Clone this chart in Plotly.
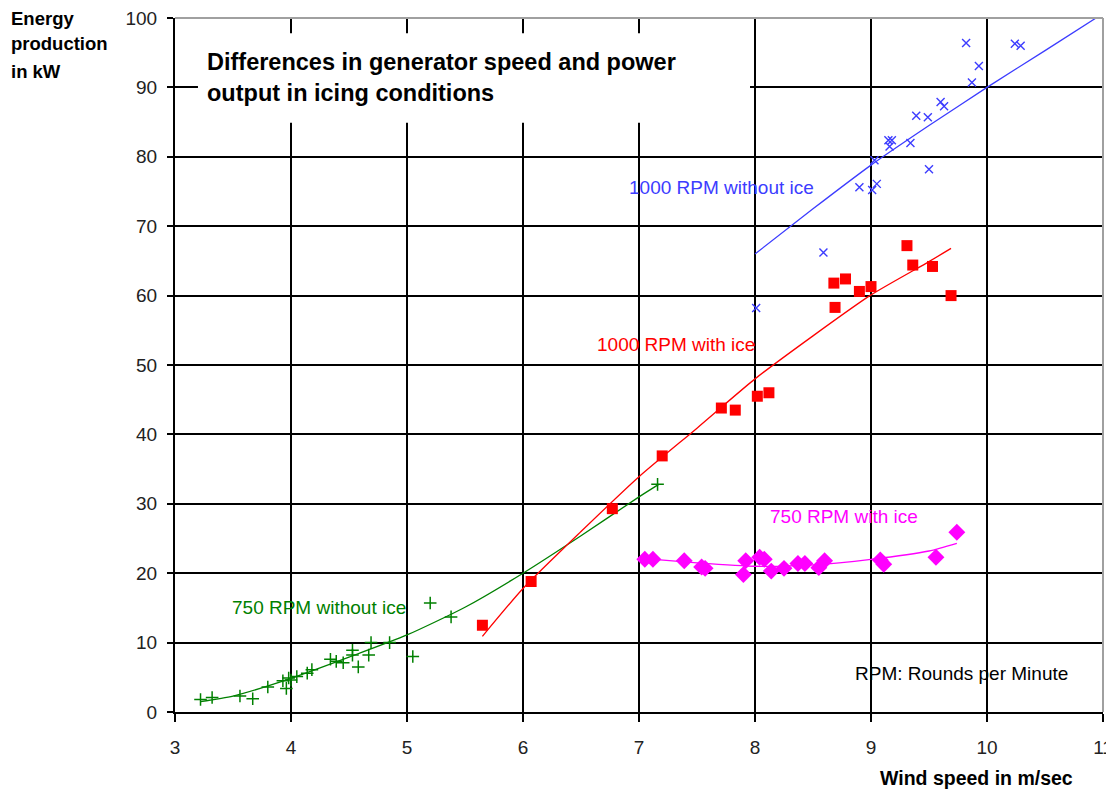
import plotly.graph_objects as go

# ---------------- data ----------------
# 750 RPM without ice (green +)
g_x = [3.22, 3.32, 3.56, 3.67, 3.80, 3.93, 3.96, 3.98, 4.00, 4.05, 4.14, 4.18, 4.34, 4.39,
       4.45, 4.53, 4.53, 4.58, 4.67, 4.69, 4.85, 5.05, 5.20, 5.38, 7.16]
g_y = [1.8, 2.1, 2.3, 1.9, 3.6, 4.5, 3.4, 4.9, 4.6, 5.1, 5.6, 6.1, 7.6, 7.3,
       7.1, 8.9, 8.2, 6.5, 8.2, 10.0, 10.0, 8.0, 15.7, 13.7, 32.8]
g_fit_x = [3.22, 3.5, 4.0, 4.5, 5.0, 5.5, 6.0, 6.5, 7.0, 7.17]
g_fit_y = [1.5, 2.3, 4.85, 7.9, 11.1, 15.1, 20.0, 25.4, 31.0, 32.8]

# 1000 RPM with ice (red squares)
r_x = [5.65, 6.07, 6.77, 7.20, 7.71, 7.83, 8.02, 8.12, 8.69, 8.68, 8.78, 8.90, 9.00,
       9.31, 9.36, 9.53, 9.69]
r_y = [12.5, 18.8, 29.3, 36.9, 43.8, 43.5, 45.5, 46.0, 58.3, 61.8, 62.4, 60.6, 61.3,
       67.2, 64.4, 64.2, 60.0]
r_fit_x = [5.65, 6.0, 6.5, 7.0, 7.5, 8.0, 8.5, 9.0, 9.5, 9.69]
r_fit_y = [10.9, 17.8, 26.0, 33.9, 40.9, 48.0, 54.2, 60.1, 64.9, 66.8]

# 750 RPM with ice (magenta diamonds)
m_x = [7.05, 7.12, 7.39, 7.54, 7.57, 7.90, 7.92, 8.04, 8.08, 8.14, 8.25, 8.37, 8.43,
       8.55, 8.60, 9.08, 9.11, 9.56, 9.74]
m_y = [22.0, 22.0, 21.8, 20.9, 20.7, 19.8, 21.8, 22.3, 22.0, 20.3, 20.7, 21.4, 21.4,
       20.8, 21.8, 21.9, 21.3, 22.3, 25.9]
m_fit_x = [7.05, 7.5, 8.0, 8.5, 9.0, 9.5, 9.74]
m_fit_y = [22.1, 21.5, 21.0, 21.2, 22.0, 23.2, 24.3]

# 1000 RPM without ice (blue x)
b_x = [8.01, 8.59, 8.90, 9.01, 9.05, 9.03, 9.16, 9.15, 9.18, 9.34, 9.50, 9.39, 9.49,
       9.60, 9.63, 9.87, 9.93, 9.82, 10.24, 10.29]
b_y = [58.2, 66.2, 75.6, 75.2, 76.1, 79.5, 81.5, 82.4, 82.4, 82.0, 78.2, 85.9, 85.7,
       87.9, 87.3, 90.7, 93.1, 96.4, 96.3, 96.0]
b_fit_x = [8.0, 8.5, 9.0, 9.5, 10.0, 10.5, 10.94]
b_fit_y = [66.0, 72.5, 78.8, 84.5, 90.0, 95.3, 100.0]

x_ticks = [3, 4, 5, 6, 7, 8, 9, 10, 11]
y_ticks = [0, 10, 20, 30, 40, 50, 60, 70, 80, 90, 100]

GREEN = "#008000"
RED = "#ff0000"
MAGENTA = "#ff00ff"
BLUE = "#3c3cff"
FONT = "Arial, Liberation Sans, sans-serif"

fig = go.Figure()

def fit_line(x, y, color):
    fig.add_trace(go.Scatter(x=x, y=y, mode="lines",
                             line=dict(color=color, width=1.3, shape="spline", smoothing=0.6),
                             hoverinfo="skip", showlegend=False))

fit_line(g_fit_x, g_fit_y, GREEN)
fit_line(r_fit_x, r_fit_y, RED)
fit_line(m_fit_x, m_fit_y, MAGENTA)
fit_line(b_fit_x, b_fit_y, BLUE)

fig.add_trace(go.Scatter(x=g_x, y=g_y, mode="markers", showlegend=False,
                         marker=dict(symbol="cross-thin", size=9, color=GREEN,
                                     line=dict(color=GREEN, width=1.5))))
fig.add_trace(go.Scatter(x=b_x, y=b_y, mode="markers", showlegend=False,
                         marker=dict(symbol="x-thin", size=8, color=BLUE,
                                     line=dict(color=BLUE, width=1.4))))
fig.add_trace(go.Scatter(x=r_x, y=r_y, mode="markers", showlegend=False,
                         marker=dict(symbol="square", size=11, color=RED)))
fig.add_trace(go.Scatter(x=m_x, y=m_y, mode="markers", showlegend=False,
                         marker=dict(symbol="diamond", size=13, color=MAGENTA)))

# white title box covering the grid
fig.add_shape(type="rect", xref="x", yref="y", x0=3.198, x1=7.957, y0=84.9, y1=97.8,
              fillcolor="white", line=dict(width=0), layer="above")
# gray top and right border
fig.add_shape(type="line", xref="paper", yref="paper", x0=0, x1=1, y0=1, y1=1,
              line=dict(color="#a0a0a0", width=2), layer="above")
fig.add_shape(type="line", xref="paper", yref="paper", x0=1, x1=1, y0=0, y1=1,
              line=dict(color="#a0a0a0", width=2), layer="above")

ann = []
def label(text, x, y, color, size=19, bold=False, xref="x", yref="y", xanchor="left"):
    ann.append(dict(text=text, x=x, y=y, xref=xref, yref=yref, xanchor=xanchor,
                    yanchor="middle", showarrow=False, align="left",
                    font=dict(family=FONT, size=size, color=color,
                              weight="bold" if bold else "normal")))

label("Differences in generator speed and power", 3.259, (712 - 62) / 6.94, "black", 23.5, True)
label("output in icing conditions", 3.259, (712 - 93) / 6.94, "black", 23.5, True)
label("1000 RPM without ice", 6.897, 75.6, BLUE)
label("1000 RPM with ice", 6.62, 52.9, RED)
label("750 RPM with ice", 8.11, 28.2, MAGENTA)
label("750 RPM without ice", 3.474, 15.1, GREEN)
label("RPM: Rounds per Minute", 8.845, 5.6, "black")

label("Energy", -0.1785, (712 - 18) / 694, "black", 18.5, True, "paper", "paper")
label("production", -0.1785, (712 - 44) / 694, "black", 18.5, True, "paper", "paper")
label("in kW", -0.1785, (712 - 71) / 694, "black", 18.5, True, "paper", "paper")
label("Wind speed in m/sec", 0.864, (712 - 778) / 694, "black", 19.5, True, "paper", "paper", "center")

# page body has an 8px margin: the figure is sized so the plot area lands where the reference's is
fig.update_layout(
    width=1106, height=782, autosize=False,
    margin=dict(l=167, r=11, t=10, b=78, autoexpand=False),
    paper_bgcolor="white", plot_bgcolor="white",
    showlegend=False,
    annotations=ann,
    font=dict(family=FONT),
)
fig.update_xaxes(range=[3, 11], tickvals=x_ticks, ticktext=[str(v) for v in x_ticks],
                 showgrid=True, gridcolor="black", gridwidth=1.6, zeroline=False,
                 showline=True, linecolor="black", linewidth=2, automargin=False,
                 ticks="outside", ticklen=8, tickcolor="black", tickwidth=1.5,
                 ticklabelstandoff=9, ticklabeloverflow="allow",
                 tickfont=dict(size=19, color="#222"))
fig.update_yaxes(range=[0, 100], tickvals=y_ticks, ticktext=[str(v) for v in y_ticks],
                 showgrid=True, gridcolor="black", gridwidth=1.6, zeroline=False,
                 showline=True, linecolor="black", linewidth=2, automargin=False,
                 ticks="outside", ticklen=6, tickcolor="black", tickwidth=1.5,
                 ticklabelstandoff=6, ticklabeloverflow="allow",
                 tickfont=dict(size=19, color="#222"))

fig.write_html("out.html")
